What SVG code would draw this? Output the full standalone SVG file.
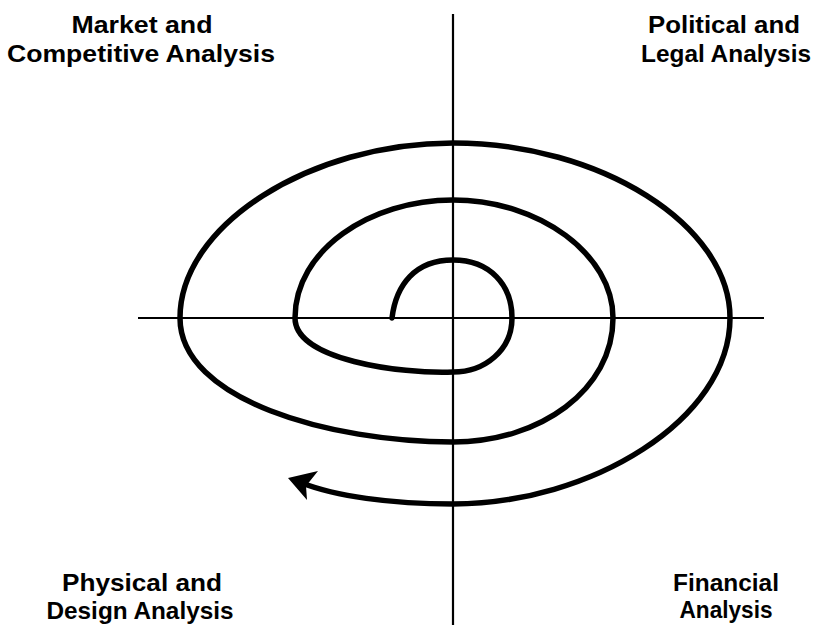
<svg xmlns="http://www.w3.org/2000/svg" width="818" height="630" viewBox="0 0 818 630">
<style>
.lbl{font-family:"Liberation Sans",Arial,sans-serif;font-weight:bold;font-size:24px;fill:#000;text-anchor:middle}
.axis{stroke:#000;stroke-width:2.2;fill:none}
.spiral{stroke:#000;stroke-width:5.5;fill:none;stroke-linecap:round;stroke-linejoin:round}
</style>
<rect width="818" height="630" fill="#fff"/>
<g id="connectors">
<line class="axis" x1="453" y1="14" x2="453" y2="625"/>
<line class="axis" x1="138" y1="318" x2="764" y2="318"/>
<path class="spiral" d="M392,318 C396,285 415,260 453,260 C490,260 512,285 512,318 C512,350 485,372 453,372 C400,374 295,360 295,318 C295,250 370,200 453,200 C540,200 613,255 613,318 C613,390 540,442 453,442 C330,442 180,400 180,318 C180,225 310,143 453,143 C600,143 730,225 730,318 C730,420 590,504 453,504 C390,504 335,496 302,483"/>
<polygon points="288,478 318,471 306,486 307,500" fill="#000"/>
</g>
<g id="market"><text class="lbl" x="142" y="33" textLength="141" lengthAdjust="spacingAndGlyphs">Market and</text><text class="lbl" x="141" y="62" textLength="268" lengthAdjust="spacingAndGlyphs">Competitive Analysis</text></g>
<g id="political"><text class="lbl" x="724" y="33" textLength="152" lengthAdjust="spacingAndGlyphs">Political and</text><text class="lbl" x="726" y="62" textLength="170" lengthAdjust="spacingAndGlyphs">Legal Analysis</text></g>
<g id="physical"><text class="lbl" x="142" y="591" textLength="160" lengthAdjust="spacingAndGlyphs">Physical and</text><text class="lbl" x="140" y="619" textLength="187" lengthAdjust="spacingAndGlyphs">Design Analysis</text></g>
<g id="financial"><text class="lbl" x="726" y="591" textLength="106" lengthAdjust="spacingAndGlyphs">Financial</text><text class="lbl" x="726" y="618" textLength="93" lengthAdjust="spacingAndGlyphs">Analysis</text></g>
</svg>
